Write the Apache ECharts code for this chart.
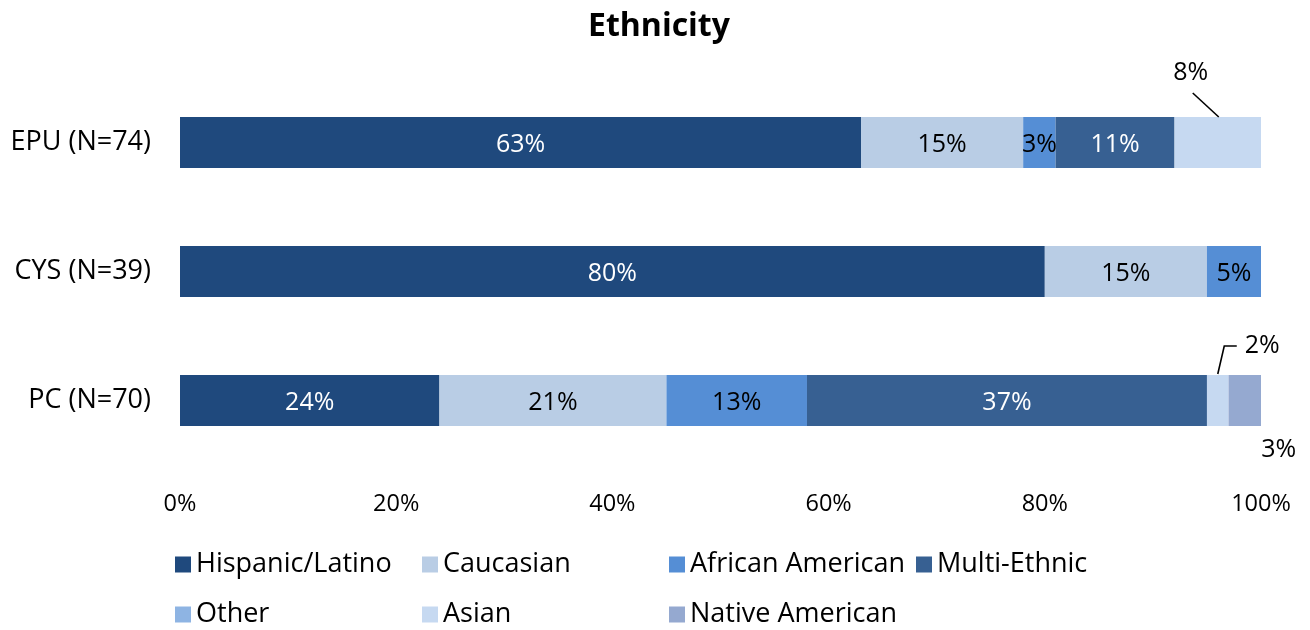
<!DOCTYPE html>
<html>
<head>
<meta charset="utf-8">
<script src="https://cdn.jsdelivr.net/npm/echarts@6/dist/echarts.min.js"></script>
<style>
  html, body { margin: 0; padding: 0; background: #fff; }
  #chart { width: 1310px; height: 630px; }
</style>
</head>
<body>
<div id="chart"></div>
<script>
// Sites (top to bottom) and ethnicity shares in percent
const sites = ['EPU (N=74)', 'CYS (N=39)', 'PC (N=70)'];
const ticks = [0, 20, 40, 60, 80, 100];

const hispanic = [63, 80, 24];
const caucasian = [15, 15, 21];
const africanAmerican = [3, 5, 13];
const multiEthnic = [11, null, 37];
const other = [null, null, null];
const asian = [8, null, 2];
const nativeAmerican = [null, null, 3];

const FONT = '"Open Sans", "Noto Sans", sans-serif';
const BAR_WIDTH = 51;

const groups = [
  { name: 'Hispanic/Latino', data: hispanic, color: '#1f497d', text: '#ffffff' },
  { name: 'Caucasian', data: caucasian, color: '#b9cde5', text: '#000000' },
  { name: 'African American', data: africanAmerican, color: '#558ed5', text: '#000000' },
  { name: 'Multi-Ethnic', data: multiEthnic, color: '#376092', text: '#ffffff' },
  { name: 'Other', data: other, color: '#8eb4e3', text: '#000000' },
  { name: 'Asian', data: asian, color: '#c6d9f1', text: '#000000' },
  { name: 'Native American', data: nativeAmerican, color: '#95a9d0', text: '#000000' }
];

// Slices too narrow for an inside label get a callout instead
// (group, site index, callout shape)
const calloutSpecs = [
  { group: 'Asian', site: 0, shape: 'diagonal' },
  { group: 'Asian', site: 2, shape: 'elbow' },
  { group: 'Native American', site: 2, shape: 'below' }
];
const isCallout = (name, i) => calloutSpecs.some(c => c.group === name && c.site === i);

// Stacked start/end of every callout slice, taken from the series arrays
const calloutData = calloutSpecs.map(c => {
  const gi = groups.findIndex(g => g.name === c.group);
  let start = 0;
  for (let k = 0; k < gi; k++) start += groups[k].data[c.site] || 0;
  const v = groups[gi].data[c.site];
  return { value: [c.site, start, start + v, v], shape: c.shape };
});

const series = groups.map(g => ({
  name: g.name,
  type: 'bar',
  stack: 'total',
  barWidth: BAR_WIDTH,
  itemStyle: { color: g.color },
  emphasis: { disabled: true },
  data: g.data,
  label: {
    show: true,
    position: 'inside',
    offset: [0, 2],
    color: g.text,
    fontFamily: FONT,
    fontSize: 25,
    formatter: p => (p.value == null || p.value === 0 || isCallout(g.name, p.dataIndex)) ? '' : p.value + '%'
  }
}));

// Callout labels with their guide lines, positioned from the stacked values
series.push({
  name: 'callouts',
  type: 'custom',
  coordinateSystem: 'cartesian2d',
  silent: true,
  z: 5,
  encode: { x: [1, 2], y: 0 },
  data: calloutData,
  renderItem: (params, api) => {
    const item = calloutData[params.dataIndex];
    const site = api.value(0);
    const a = api.coord([api.value(1), site]);
    const b = api.coord([api.value(2), site]);
    const cx = (a[0] + b[0]) / 2;
    const top = a[1] - BAR_WIDTH / 2;
    const bottom = a[1] + BAR_WIDTH / 2;
    const text = api.value(3) + '%';
    const textStyle = { text: text, fill: '#000000', fontFamily: FONT, fontSize: 25, textVerticalAlign: 'middle' };
    const lineStyle = { stroke: '#000000', lineWidth: 1.6, fill: null };
    const children = [];
    if (item.shape === 'diagonal') {
      children.push({ type: 'polyline', shape: { points: [[cx + 1, top], [cx - 25, top - 24]] }, style: lineStyle });
      children.push({ type: 'text', style: Object.assign({ x: cx - 27, y: top - 44, textAlign: 'center' }, textStyle) });
    } else if (item.shape === 'elbow') {
      children.push({ type: 'polyline', shape: { points: [[cx, top - 1], [cx + 6.5, top - 29], [cx + 19, top - 29]] }, style: lineStyle });
      children.push({ type: 'text', style: Object.assign({ x: cx + 27, y: top - 29, textAlign: 'left' }, textStyle) });
    } else {
      children.push({ type: 'text', style: Object.assign({ x: cx + 34, y: bottom + 24, textAlign: 'center' }, textStyle) });
    }
    return { type: 'group', children: children };
  }
});

const legendBase = {
  left: 175,
  orient: 'horizontal',
  icon: 'rect',
  itemWidth: 16,
  itemHeight: 16,
  itemGap: 2,
  padding: 0,
  selectedMode: false,
  formatter: name => '{n|' + name + '}',
  textStyle: {
    fontFamily: FONT,
    fontSize: 27,
    color: '#000000',
    rich: { n: { width: 224, fontFamily: FONT, fontSize: 27, lineHeight: 30, color: '#000000' } }
  }
};

const chart = echarts.init(document.getElementById('chart'), null, { renderer: 'canvas' });
chart.setOption({
  backgroundColor: '#ffffff',
  animation: false,
  title: {
    text: 'Ethnicity',
    left: 583,
    top: 6,
    textStyle: { fontFamily: FONT, fontWeight: 'bold', fontSize: 32, color: '#000000' }
  },
  legend: [
    Object.assign({}, legendBase, { top: 551, data: groups.slice(0, 4).map(g => g.name) }),
    Object.assign({}, legendBase, { top: 601, data: groups.slice(4).map(g => g.name) })
  ],
  grid: { left: 180, right: 49, top: 78, bottom: 165, containLabel: false },
  xAxis: {
    type: 'value',
    min: ticks[0],
    max: ticks[ticks.length - 1],
    interval: ticks[1] - ticks[0],
    axisLine: { show: false },
    axisTick: { show: false },
    splitLine: { show: false },
    axisLabel: {
      margin: 27,
      fontFamily: FONT,
      fontSize: 23.5,
      color: '#000000',
      formatter: v => v + '%'
    }
  },
  yAxis: {
    type: 'category',
    data: sites,
    inverse: true,
    axisLine: { show: false },
    axisTick: { show: false },
    axisLabel: { margin: 29, fontFamily: FONT, fontSize: 27, color: '#000000' }
  },
  series: series
});
</script>
</body>
</html>
